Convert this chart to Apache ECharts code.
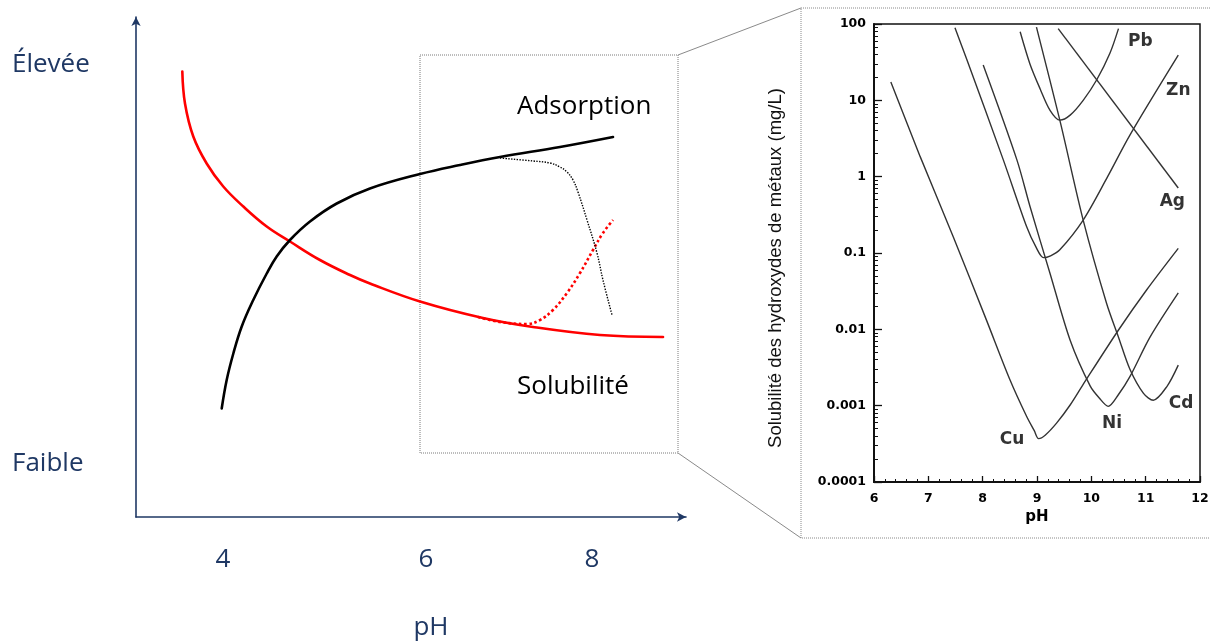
<!DOCTYPE html>
<html><head><meta charset="utf-8">
<script src="https://cdn.jsdelivr.net/npm/echarts@6/dist/echarts.min.js"></script>
<style>html,body{margin:0;padding:0;background:#fff}#c{width:1210px;height:642px}</style>
</head><body><div id="c"></div>
<script>
// ---------- Left panel (conceptual sketch) ----------
const leftTickLabels = ['4', '6', '8'];
const leftTickAt = [4, 6.2, 8];
const leftLevelLabels = ['Faible', 'Élevée'];
const leftLevelAt = [10.6, 90.4];
const adsorption = [[3.986,21.7],[4.040,27.4],[4.112,32.7],[4.203,38.1],[4.328,43.4],[4.474,48.7],[4.582,52.1],[4.726,55.4],[4.943,59.1],[5.233,62.7],[5.593,65.7],[6.136,68.6],[6.569,70.4],[7.003,72.0],[7.653,74.0],[8.228,76.0]];
const adsorptionDrop = [[7.003,71.8],[7.360,71.2],[7.545,70.8],[7.653,70.0],[7.729,69.0],[7.794,67.4],[7.848,65.0],[7.946,59.4],[8.054,52.8],[8.119,47.4],[8.217,40.4]];
const solubility = [[3.559,89.1],[3.588,82.7],[3.678,76.1],[3.823,70.7],[4.003,66.1],[4.220,62.1],[4.474,58.1],[4.726,55.1],[5.051,51.4],[5.377,48.4],[5.593,46.7],[6.136,43.1],[6.818,39.8],[7.360,38.0],[8.087,36.4],[8.770,36.0]];
const solubilityRise = [[6.764,40.0],[7.003,39.0],[7.295,38.6],[7.436,39.4],[7.577,41.4],[7.729,44.8],[7.870,48.8],[8.011,53.4],[8.119,56.8],[8.228,59.4]];

// ---------- Right panel (metal hydroxide solubility, mg/L vs pH) ----------
const phTicks = [6, 7, 8, 9, 10, 11, 12];
const solTicks = [0.0001, 0.001, 0.01, 0.1, 1, 10, 100];
const solTickLabels = ['0.0001', '0.001', '0.01', '0.1', '1', '10', '100'];
const metals = ['Pb', 'Zn', 'Ag', 'Cd', 'Ni', 'Cu'];
const cu = [[6.31,17.4],[6.85,1.83],[7.46,0.162],[8.07,0.0132],[8.5,0.0022],[8.81,0.00072],[8.95,0.00047],[9.03,0.00037],[9.15,0.00041],[9.36,0.00059],[9.61,0.00102],[9.85,0.0019],[10.5,0.0098],[11.02,0.033],[11.6,0.115]];
const zn = [[7.49,89],[7.71,34],[8.38,1.66],[8.81,0.22],[8.98,0.12],[9.12,0.087],[9.25,0.092],[9.42,0.11],[9.85,0.27],[10.3,1.0],[10.71,3.5],[11.6,39]];
const pb = [[8.69,79],[8.87,30],[9.06,14],[9.24,7.4],[9.42,5.5],[9.61,6.4],[9.85,10],[10.1,18.6],[10.34,41],[10.5,87]];
const ni = [[8.01,29],[8.63,1.66],[8.87,0.41],[9.24,0.054],[9.61,0.0072],[9.98,0.0018],[10.15,0.00125],[10.31,0.00098],[10.5,0.0014],[10.71,0.0024],[11.08,0.0079],[11.6,0.030]];
const cd = [[8.99,91],[9.42,5.5],[9.85,0.27],[10.28,0.022],[10.5,0.0079],[10.71,0.0030],[10.96,0.00145],[11.14,0.00118],[11.39,0.00178],[11.6,0.0034]];
const ag = [[9.39,87],[11.6,0.71]];

const navy = '#1F3864';
const sans = '"Open Sans", sans-serif';
const bold = '"DejaVu Sans", sans-serif';

const minorLog = [];
solTicks.slice(0, -1).forEach(d => { for (let m = 2; m <= 9; m++) minorLog.push(+(d * m).toPrecision(3)); });

// label anchor positions (data coords) for metal names
const labelAnchors = {Pb:[10.9,58], Zn:[11.6,13.6], Ag:[11.49,0.466], Cd:[11.65,0.00108], Ni:[10.38,0.00059], Cu:[8.54,0.000355]};

const curveStyle = {color:'#333', width:1.4};
function metalSeries(name, data) {
  return {name, type:'line', xAxisIndex:1, yAxisIndex:1, data, smooth:0.3, symbol:'none',
          lineStyle:curveStyle, silent:true, animation:false};
}

const chart = echarts.init(document.getElementById('c'), null, {renderer:'canvas'});
chart.setOption({
  animation:false,
  backgroundColor:'#fff',
  grid:[
    {left:136, top:17, width:550, height:500, outerBoundsMode:'none'},
    {left:874, top:24, width:326, height:458, outerBoundsMode:'none', show:true, borderColor:'#111', borderWidth:1.5}
  ],
  xAxis:[
    {gridIndex:0, type:'value', min:3.0569, max:9.019,
     axisLine:{show:true, lineStyle:{color:navy, width:1.6}, symbol:['none','arrow'], symbolSize:[7,9]},
     axisTick:{show:false}, splitLine:{show:false},
     axisLabel:{customValues:leftTickAt, formatter:(v) => leftTickLabels[leftTickAt.indexOf(v)] ?? '',
                fontFamily:sans, fontSize:26, color:navy, margin:30}},
    {gridIndex:1, type:'value', min:6, max:12, interval:1,
     axisLine:{show:true, onZero:false, lineStyle:{color:'#111', width:2}},
     axisTick:{show:true, inside:true, length:6, lineStyle:{color:'#111', width:1.3}},
     minorTick:{show:true, splitNumber:5, length:3, lineStyle:{color:'#111', width:1}},
     splitLine:{show:false}, minorSplitLine:{show:false},
     axisLabel:{fontFamily:bold, fontWeight:'bold', fontSize:12.5, color:'#000', margin:10,
                formatter:(v) => phTicks.includes(v) ? String(v) : ''},
     name:'pH', nameLocation:'middle', nameGap:28,
     nameTextStyle:{fontFamily:bold, fontWeight:'bold', fontSize:15, color:'#000'}}
  ],
  yAxis:[
    {gridIndex:0, type:'value', min:0, max:100,
     axisLine:{show:true, lineStyle:{color:navy, width:1.6}, symbol:['none','arrow'], symbolSize:[7,9]},
     axisTick:{show:false}, splitLine:{show:false},
     axisLabel:{customValues:leftLevelAt, formatter:(v) => leftLevelLabels[leftLevelAt.indexOf(v)] ?? '',
                align:'left', margin:124, fontFamily:sans, fontSize:26, color:navy}},
    {gridIndex:1, type:'log', logBase:10, min:0.0001, max:100,
     axisLine:{show:true, onZero:false, lineStyle:{color:'#111', width:2}},
     axisTick:{show:true, inside:true, length:8, customValues:solTicks, lineStyle:{color:'#111', width:1.3}},
     splitLine:{show:false},
     axisLabel:{customValues:solTicks, formatter:(v) => solTickLabels[Math.round(Math.log10(v)) + 4],
                fontFamily:bold, fontWeight:'bold', fontSize:12.5, color:'#000', margin:8}},
    {gridIndex:1, type:'log', logBase:10, min:0.0001, max:100, position:'left',
     axisLine:{show:false}, splitLine:{show:false}, axisLabel:{show:false},
     axisTick:{show:true, inside:true, length:4, customValues:minorLog, lineStyle:{color:'#111', width:1}}}
  ],
  series:[
    {name:'Solubilité', type:'line', xAxisIndex:0, yAxisIndex:0, data:solubility, smooth:0.4, symbol:'none',
     lineStyle:{color:'#FF0000', width:2.6, cap:'round'}},
    {name:'Solubilité (pointillé)', type:'line', xAxisIndex:0, yAxisIndex:0, data:solubilityRise, smooth:0.4, symbol:'none',
     lineStyle:{color:'#FF0000', width:2.6, type:[2.6,2.6]}},
    {name:'Adsorption', type:'line', xAxisIndex:0, yAxisIndex:0, data:adsorption, smooth:0.4, symbol:'none',
     lineStyle:{color:'#000', width:2.6, cap:'round'}},
    {name:'Adsorption (pointillé)', type:'line', xAxisIndex:0, yAxisIndex:0, data:adsorptionDrop, smooth:0.4, symbol:'none',
     lineStyle:{color:'#000', width:1.4, type:[1.4,1.4]}},
    metalSeries('Cu', cu), metalSeries('Zn', zn), metalSeries('Pb', pb),
    metalSeries('Ni', ni), metalSeries('Cd', cd), metalSeries('Ag', ag),
    {name:'labels', type:'scatter', xAxisIndex:1, yAxisIndex:1, symbolSize:0, silent:true,
     data: metals.map(m => ({name:m, value:labelAnchors[m]})),
     label:{show:true, position:'inside', formatter:'{b}', fontFamily:bold, fontWeight:'bold', fontSize:17, color:'#000'}}
  ],
  graphic:[
    {type:'rect', shape:{x:420, y:55, width:258, height:398}, style:{fill:'none', stroke:'#7a7a7a', lineWidth:1, lineDash:[1,1]}},
    {type:'line', shape:{x1:678, y1:55, x2:801, y2:8}, style:{stroke:'#8a8a8a', lineWidth:1}},
    {type:'line', shape:{x1:678, y1:453, x2:801, y2:538}, style:{stroke:'#8a8a8a', lineWidth:1}},
    {type:'polyline', shape:{points:[[1210,8],[801,8],[801,538],[1210,538]]}, style:{fill:'none', stroke:'#8a8a8a', lineWidth:1, lineDash:[1,1]}},
    {type:'text', x:517, y:107, style:{text:'Adsorption', font:'26px "Open Sans"', fill:'#000', align:'left', verticalAlign:'middle'}},
    {type:'text', x:517, y:387, style:{text:'Solubilité', font:'26px "Open Sans"', fill:'#000', align:'left', verticalAlign:'middle'}},
    {type:'text', x:431, y:628, style:{text:'pH', font:'26px "Open Sans"', fill:navy, align:'center', verticalAlign:'middle'}},
    {type:'text', x:776, y:268, rotation:Math.PI/2, style:{text:'Solubilité des hydroxydes de métaux (mg/L)', font:'18.5px "Liberation Sans", Arial, sans-serif', fill:'#111', align:'center', verticalAlign:'middle'}}
  ]
});
</script>
</body></html>
